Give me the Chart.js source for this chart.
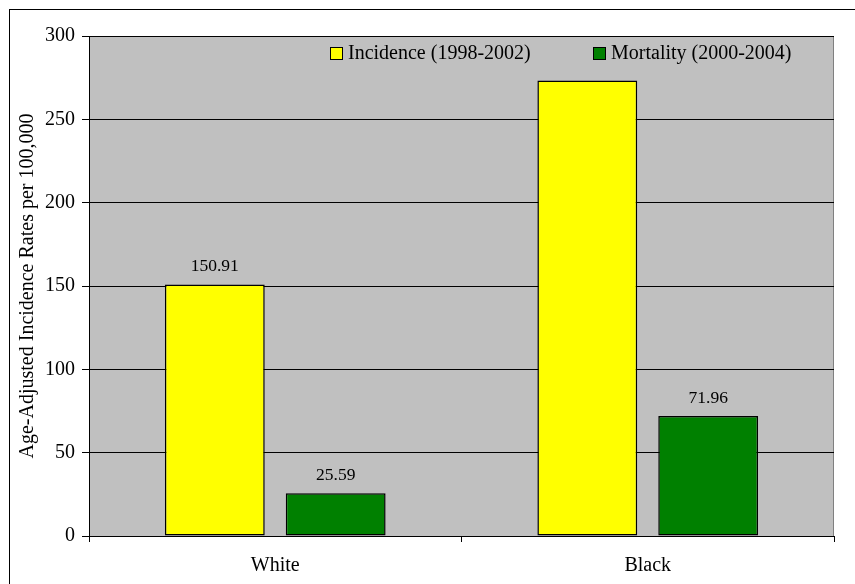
<!DOCTYPE html>
<html>
<head>
<meta charset="utf-8">
<script src="https://cdn.jsdelivr.net/npm/chart.js@4"></script>
<style>
  body { margin: 0; background: #fff; }
  #wrap { width: 855px; height: 584px; position: relative; }
</style>
</head>
<body>
<div id="wrap"><canvas id="rateChart"></canvas></div>
<script>
const groups = ['White', 'Black'];
const incidence = [150.91, 273.35];
const mortality = [25.59, 71.96];
// value labels printed over bars (null = not shown)
const incidenceLabels = ['150.91', null];
const mortalityLabels = ['25.59', '71.96'];
const yTicks = [0, 50, 100, 150, 200, 250, 300];

const serif = "'Liberation Serif', 'Times New Roman', serif";

const frame = {
    id: 'frame',
    beforeDraw(chart) {
        const { ctx, chartArea: a } = chart;
        ctx.save();
        ctx.fillStyle = '#fff';
        ctx.fillRect(0, 0, chart.width, chart.height);
        ctx.strokeStyle = '#000';
        ctx.lineWidth = 1;
        ctx.strokeRect(9.5, 9.5, 900, 700);
        ctx.fillStyle = '#c0c0c0';
        ctx.fillRect(a.left, a.top, a.right - a.left, a.bottom - a.top);
        ctx.strokeStyle = '#808080';
        ctx.beginPath();
        ctx.moveTo(a.left, a.top + 0.5);
        ctx.lineTo(a.right - 0.5, a.top + 0.5);
        ctx.lineTo(a.right - 0.5, a.bottom);
        ctx.stroke();
        ctx.restore();
    },
    afterDatasetsDraw(chart) {
        const { ctx } = chart;
        ctx.save();
        ctx.font = '17.5px ' + serif;
        ctx.fillStyle = '#000';
        ctx.textAlign = 'center';
        ctx.textBaseline = 'bottom';
        [incidenceLabels, mortalityLabels].forEach((labels, di) => {
            chart.getDatasetMeta(di).data.forEach((bar, i) => {
                if (labels[i]) ctx.fillText(labels[i], bar.x, bar.y - 9);
            });
        });

        // legend in the upper right of the plot
        ctx.font = '20px ' + serif;
        ctx.textAlign = 'left';
        ctx.textBaseline = 'middle';
        const items = [[330, 0], [593, 1]];
        items.forEach(([x, di]) => {
            const ds = chart.data.datasets[di];
            ctx.fillStyle = ds.backgroundColor;
            ctx.fillRect(x, 47, 13, 13);
            ctx.strokeStyle = '#000';
            ctx.strokeRect(x + 0.5, 47.5, 12, 12);
            ctx.fillStyle = '#000';
            ctx.fillText(ds.label, x + 18, 54);
        });
        ctx.restore();
    }
};

new Chart(document.getElementById('rateChart'), {
    type: 'bar',
    data: {
        labels: groups,
        datasets: [
            {
                label: 'Incidence (1998-2002)',
                data: incidence,
                backgroundColor: '#ffff00',
                borderColor: '#000',
                borderWidth: 1.5,
                borderSkipped: false
            },
            {
                label: 'Mortality (2000-2004)',
                data: mortality,
                backgroundColor: '#008000',
                borderColor: '#000',
                borderWidth: 1.5,
                borderSkipped: false
            }
        ]
    },
    options: {
        responsive: true,
        maintainAspectRatio: false,
        animation: false,
        categoryPercentage: 0.649,
        barPercentage: 0.826,
        layout: { padding: { left: 0, top: 36, right: 21, bottom: 0 } },
        plugins: {
            legend: { display: false },
            tooltip: { enabled: false }
        },
        scales: {
            x: {
                afterFit: s => { s.height = 48; },
                grid: { drawOnChartArea: false, offset: true, tickLength: 6, color: '#000' },
                border: { color: '#000' },
                ticks: { color: '#000', font: { family: serif, size: 20 }, padding: 12 }
            },
            y: {
                min: 0,
                max: 300,
                afterFit: s => { s.width = 89; },
                afterBuildTicks: s => { s.ticks = yTicks.map(v => ({ value: v })); },
                grid: { color: '#000', tickLength: 7 },
                border: { color: '#000' },
                ticks: { color: '#000', font: { family: serif, size: 20 }, padding: 7 },
                title: {
                    display: true,
                    text: 'Age-Adjusted Incidence Rates per 100,000',
                    color: '#000',
                    font: { family: serif, size: 20 },
                    padding: { top: 16, bottom: 0 }
                }
            }
        }
    },
    plugins: [frame]
});
</script>
</body>
</html>
